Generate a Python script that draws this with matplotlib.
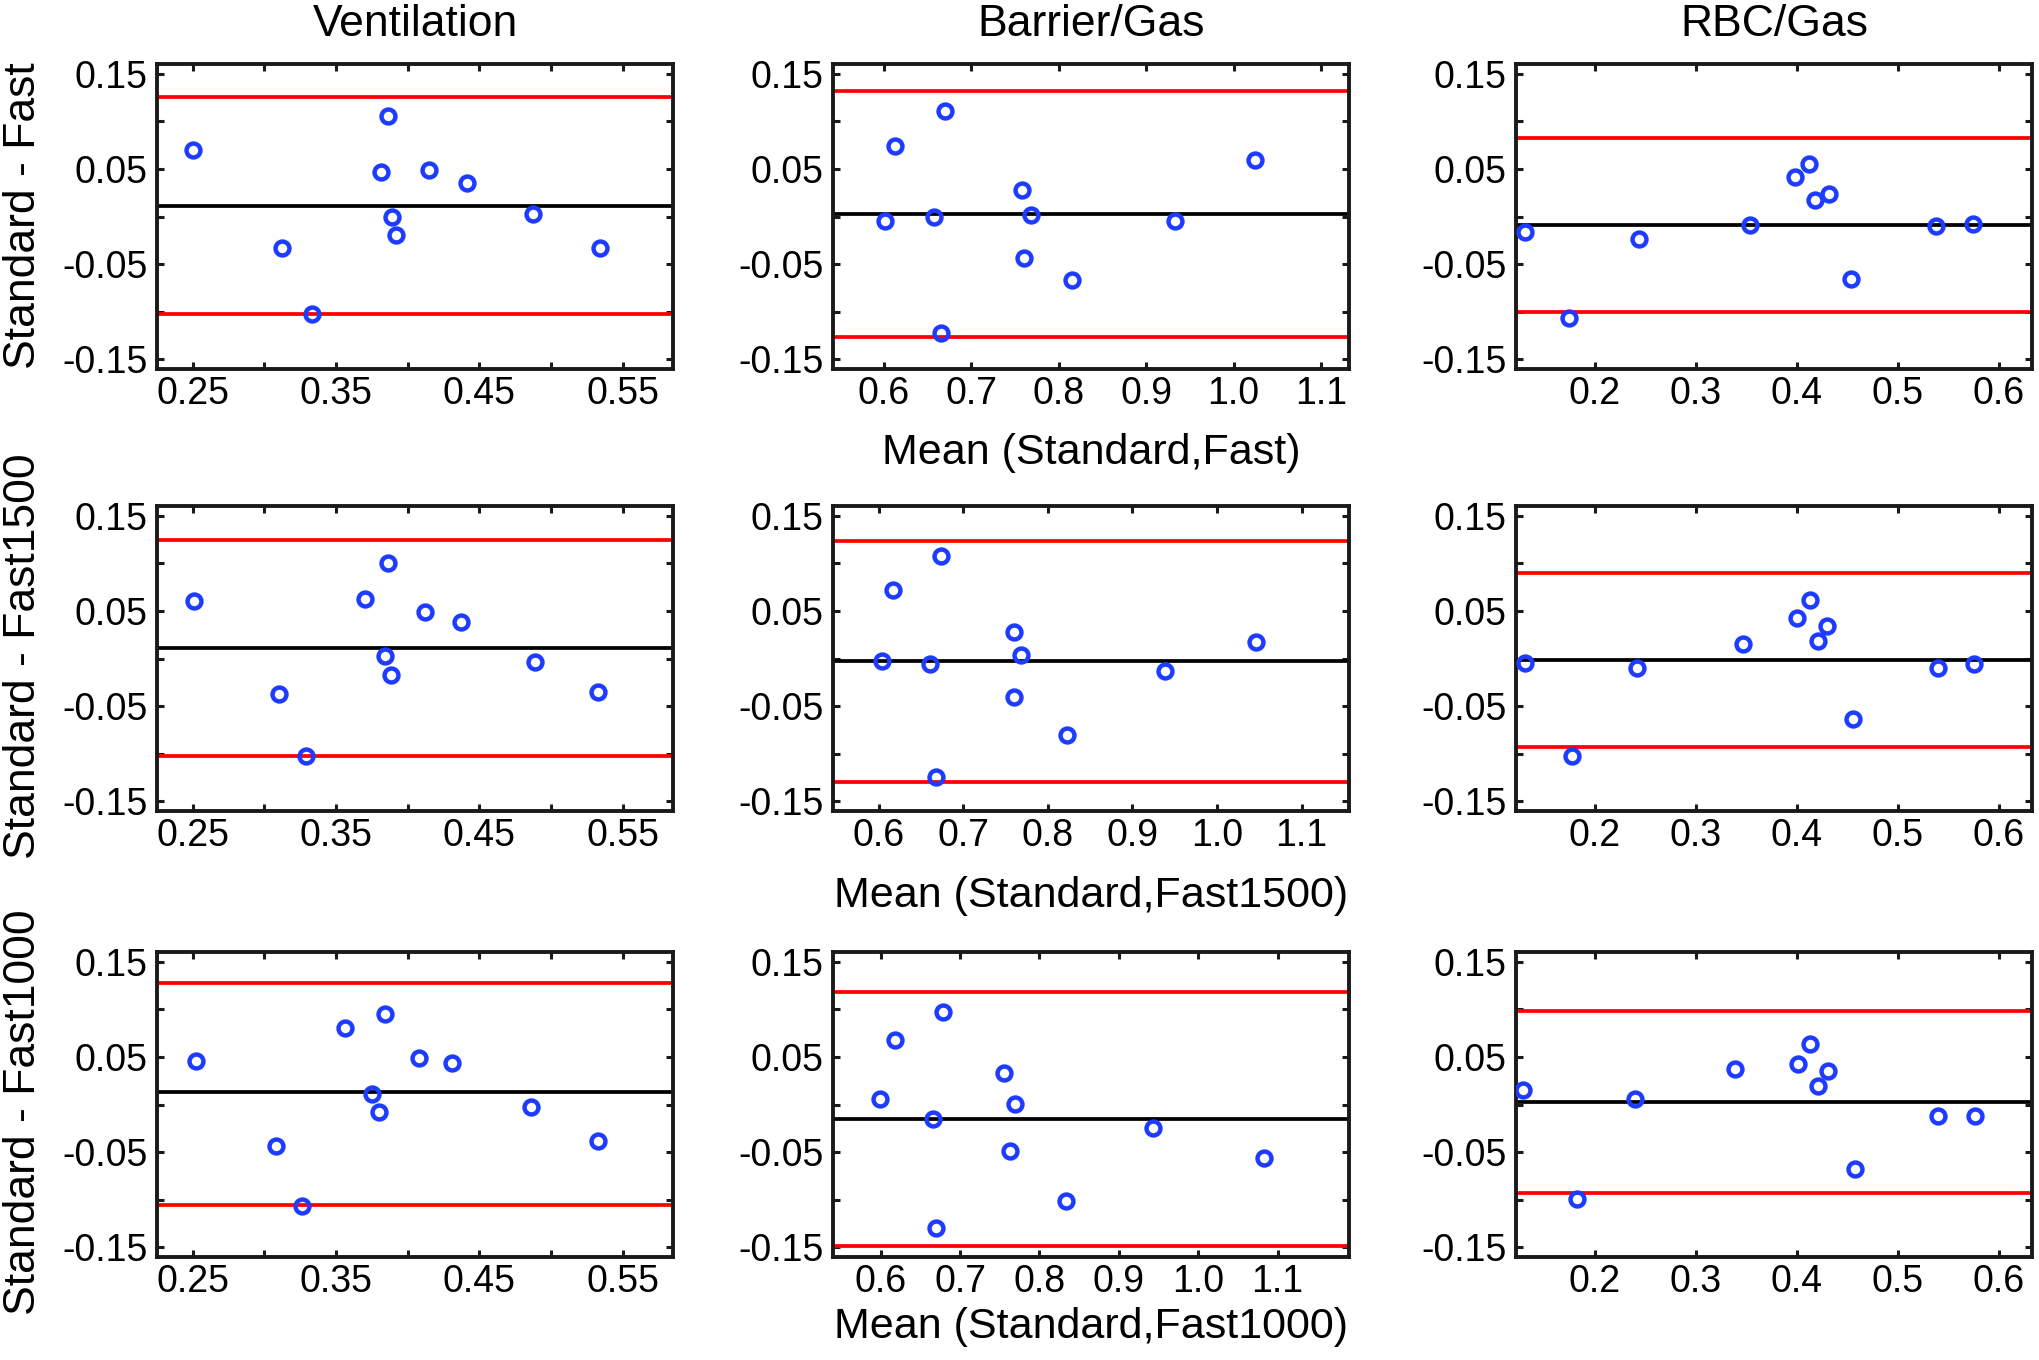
import matplotlib
matplotlib.use('Agg')
import matplotlib.pyplot as plt
import numpy as np

plt.rcParams['font.family'] = ['Liberation Sans', 'DejaVu Sans']

# ---- data ----
col_titles = ['Ventilation', 'Barrier/Gas', 'RBC/Gas']
row_labels = ['Standard - Fast', 'Standard - Fast1500', 'Standard - Fast1000']
mean_labels = ['Mean (Standard,Fast)', 'Mean (Standard,Fast1500)', 'Mean (Standard,Fast1000)']

# Ventilation
vent_x1 = [0.250, 0.386, 0.381, 0.415, 0.441, 0.389, 0.392, 0.487, 0.534, 0.312, 0.333]
vent_y1 = [0.070, 0.105, 0.047, 0.049, 0.0355, -0.0002, -0.019, 0.0023, -0.0334, -0.0327, -0.1027]
vent_x2 = [0.251, 0.386, 0.370, 0.412, 0.437, 0.384, 0.388, 0.489, 0.533, 0.310, 0.329]
vent_y2 = [0.0599, 0.100, 0.0627, 0.049, 0.0383, 0.003, -0.0168, -0.0037, -0.0348, -0.0369, -0.1027]
vent_x3 = [0.252, 0.356, 0.384, 0.408, 0.431, 0.375, 0.380, 0.486, 0.533, 0.308, 0.326]
vent_y3 = [0.0457, 0.0805, 0.0954, 0.0493, 0.044, 0.0113, -0.0082, -0.0025, -0.0383, -0.0433, -0.106]

# Barrier/Gas
bar_x1 = [0.613, 0.670, 0.602, 0.657, 0.758, 0.768, 0.760, 0.815, 0.933, 1.025, 0.666]
bar_y1 = [0.0738, 0.1105, -0.0049, -0.0003, 0.0276, 0.0014, -0.0437, -0.0668, -0.0049, 0.0591, -0.122]
bar_x2 = [0.617, 0.674, 0.604, 0.661, 0.760, 0.768, 0.760, 0.823, 0.939, 1.046, 0.668]
bar_y2 = [0.0719, 0.1072, -0.003, -0.0058, 0.0281, 0.0034, -0.0401, -0.080, -0.0129, 0.0178, -0.124]
bar_x3 = [0.6185, 0.679, 0.599, 0.666, 0.756, 0.769, 0.763, 0.833, 0.943, 1.083, 0.670]
bar_y3 = [0.0677, 0.097, 0.0055, -0.0147, 0.033, 0.0009, -0.049, -0.1016, -0.0249, -0.056, -0.1295]

# RBC/Gas
rbc_x1 = [0.131, 0.174, 0.244, 0.354, 0.398, 0.412, 0.418, 0.432, 0.454, 0.538, 0.575]
rbc_y1 = [-0.0164, -0.107, -0.0235, -0.009, 0.0412, 0.0553, 0.0178, 0.0235, -0.0655, -0.010, -0.0076]
rbc_x2 = [0.131, 0.177, 0.242, 0.347, 0.400, 0.413, 0.421, 0.430, 0.456, 0.540, 0.576]
rbc_y2 = [-0.0048, -0.102, -0.010, 0.0147, 0.0422, 0.0613, 0.0185, 0.0337, -0.063, -0.010, -0.0058]
rbc_x3 = [0.129, 0.182, 0.240, 0.339, 0.401, 0.413, 0.421, 0.431, 0.458, 0.540, 0.577]
rbc_y3 = [0.0154, -0.0995, 0.0062, 0.0373, 0.0429, 0.0631, 0.0189, 0.0355, -0.0677, -0.0122, -0.0122]

# limits of agreement: (upper, mean, lower)
vent_loa = [(0.125, 0.0115, -0.1027), (0.1246, 0.0115, -0.1027), (0.128, 0.0128, -0.105)]
bar_loa = [(0.132, 0.0028, -0.126), (0.123, -0.003, -0.1295), (0.1178, -0.0154, -0.1486)]
rbc_loa = [(0.0822, -0.009, -0.100), (0.0896, -0.0012, -0.093), (0.098, 0.0023, -0.0924)]

panels = [
    [(vent_x1, vent_y1, vent_loa[0]), (bar_x1, bar_y1, bar_loa[0]), (rbc_x1, rbc_y1, rbc_loa[0])],
    [(vent_x2, vent_y2, vent_loa[1]), (bar_x2, bar_y2, bar_loa[1]), (rbc_x2, rbc_y2, rbc_loa[1])],
    [(vent_x3, vent_y3, vent_loa[2]), (bar_x3, bar_y3, bar_loa[2]), (rbc_x3, rbc_y3, rbc_loa[2])],
]

# axis settings per column (x limits differ a bit per row in the middle column)
xlims = [
    [(0.225, 0.585), (0.542, 1.132), (0.122, 0.633)],
    [(0.225, 0.585), (0.546, 1.156), (0.122, 0.633)],
    [(0.225, 0.585), (0.540, 1.190), (0.122, 0.633)],
]
xticks = [np.arange(0.25, 0.551, 0.05), np.arange(0.6, 1.11, 0.1), np.arange(0.2, 0.61, 0.1)]
xticklabels = [['0.25', '', '0.35', '', '0.45', '', '0.55'],
               ['0.6', '0.7', '0.8', '0.9', '1.0', '1.1'],
               ['0.2', '0.3', '0.4', '0.5', '0.6']]
yticks = [-0.15, -0.10, -0.05, 0.0, 0.05, 0.10, 0.15]
yticklabels = ['-0.15', '', '-0.05', '', '0.05', '', '0.15']

W, H = 2040, 1360
fig = plt.figure(figsize=(W / 100, H / 100), dpi=100)

col_left = [157, 833, 1516]
col_w = 516
row_top = [64, 506, 952]
row_h = 305
xlabel_pad = [15, 16, 5]
ylabel_y = [216, 656, 1112]

edge = '#1a1a1a'
for r in range(3):
    for c in range(3):
        ax = fig.add_axes([col_left[c] / W, 1 - (row_top[r] + row_h) / H, col_w / W, row_h / H])
        x, y, loa = panels[r][c]
        ax.axhline(loa[0], color='#ff0000', lw=2.7, zorder=2)
        ax.axhline(loa[2], color='#ff0000', lw=2.7, zorder=2)
        ax.axhline(loa[1], color='black', lw=2.7, zorder=2)
        ax.plot(x, y, 'o', ms=10, mfc='none', mec='#1e3cff', mew=3.2, zorder=3)

        ax.set_xlim(*xlims[r][c])
        ax.set_ylim(-0.16, 0.16)
        ax.set_xticks(xticks[c])
        ax.set_xticklabels(xticklabels[c])
        ax.set_yticks(yticks)
        ax.set_yticklabels(yticklabels)
        ax.tick_params(direction='in', length=5, width=2.2, top=True, right=True,
                       labelsize=27, pad=7, color=edge)
        ax.tick_params(axis='x', pad=5)
        for s in ax.spines.values():
            s.set_linewidth(2.8)
            s.set_color(edge)

        if r == 0:
            ax.set_title(col_titles[c], fontsize=32, pad=20)
        if c == 1:
            ax.set_xlabel(mean_labels[r], fontsize=31, labelpad=xlabel_pad[r])
        if c == 0:
            fig.text(24 / W, 1 - ylabel_y[r] / H, row_labels[r], rotation=90,
                     ha='center', va='center', fontsize=32)

fig.savefig('out.png', dpi=100)
